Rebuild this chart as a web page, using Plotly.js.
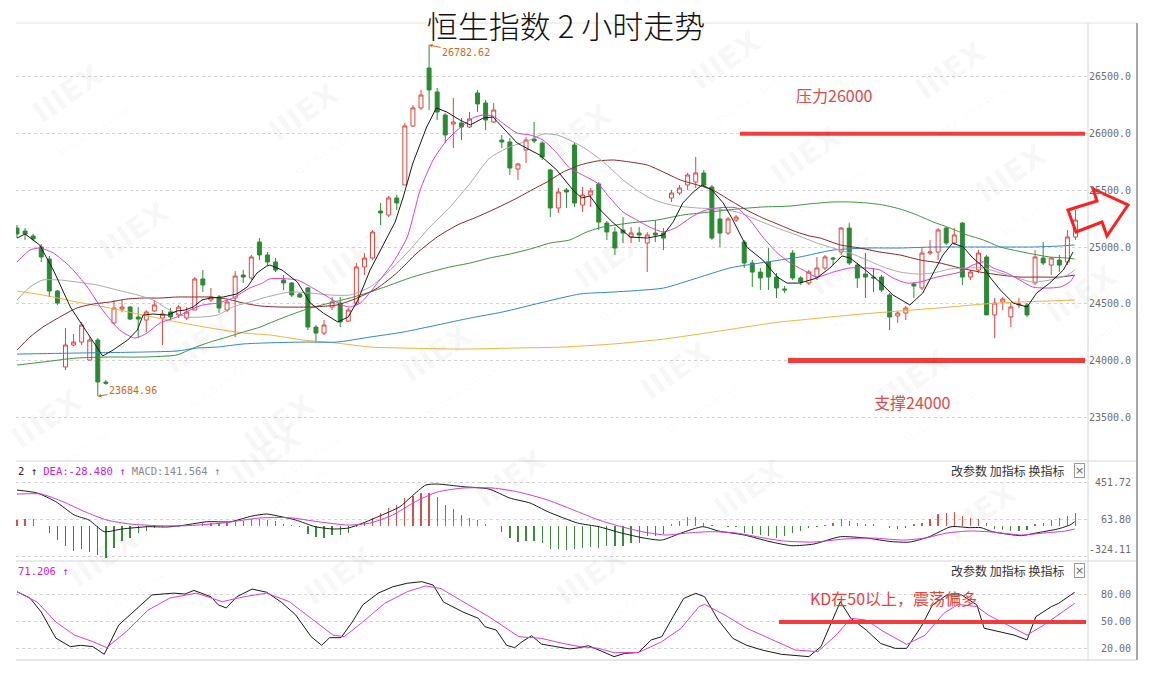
<!DOCTYPE html>
<html><head><meta charset="utf-8">
<script src="https://cdn.plot.ly/plotly-3.0.1.min.js"></script>
<style>html,body{margin:0;padding:0;background:#fff;overflow:hidden}#chart{width:1157px;height:687px}</style>
</head><body><div id="chart"></div>
<script>
// ---------- DATA ----------
const opens = [25168,25142,25098,25001,24895,24613,23943,24137,24163,24004,
 24181,23810,24331,24454,24472,24384,24357,24437,24375,24428,
 24402,24375,24445,24719,24534,24560,24445,24551,24754,24728,
 25045,24931,24869,24710,24684,24587,24640,24295,24242,24472,
 24507,24348,24507,24825,24904,25318,25283,25433,25548,26068,
 26227,26579,26368,26165,26085,26094,26059,26359,26271,26103,
 25944,25927,25689,25856,25953,25918,25680,25345,25504,25900,
 25371,25460,25557,25212,25133,25151,25089,25124,25036,25124,
 25124,25433,25477,25548,25574,25654,25530,25248,25124,25239,
 25045,24860,24780,24869,24736,24631,24948,24728,24684,24736,
 24816,24904,24957,25168,24842,24763,24736,24736,24578,24393,
 24419,24675,24640,24948,24957,25168,25036,25212,24736,24798,
 24913,24402,24516,24384,24490,24490,24684,24904,24842,24886,
 24869,25089];
const highs = [25195,25168,25116,25027,24922,24622,24287,24234,24340,24207,
 24198,23828,24534,24534,24481,24472,24445,24534,24445,24463,
 24490,24472,24736,24798,24640,24578,24534,24789,24798,24931,
 25080,24957,24904,24754,24692,24595,24648,24313,24357,24560,
 24560,24463,24860,24948,25151,25389,25451,25460,26094,26253,
 26385,26782.62,26403,26182,26315,26138,26191,26385,26297,26271,
 25989,25962,25742,25971,26103,25936,25690,25521,25521,25918,
 25530,25521,25574,25230,25177,25265,25177,25177,25133,25239,
 25168,25504,25548,25654,25795,25680,25548,25345,25265,25283,
 25063,24886,24816,24992,24772,24657,24974,24745,24798,24913,
 24931,24913,25177,25212,24860,24948,24816,24754,24595,24437,
 24481,24692,25001,25063,25168,25177,25168,25221,24798,24974,
 24931,24551,24560,24507,24551,24507,24974,25045,24913,24931,
 25151,25327];
const lows = [25080,25063,25054,24869,24560,24490,23916,24128,24137,24004,
 23684.96,23785,24320,24428,24357,24198,24251,24428,24137,24357,
 24375,24357,24445,24604,24516,24419,24428,24207,24684,24710,
 24886,24842,24780,24622,24560,24551,24269,24163,24225,24445,
 24295,24340,24490,24754,24886,25195,25265,25327,25548,26059,
 26209,26209,26121,25918,25874,25944,26050,26191,26033,26094,
 25874,25636,25592,25742,25918,25768,25265,25301,25345,25354,
 25310,25354,25151,25063,24931,25036,25036,25045,24781,25045,
 24974,25398,25460,25504,25521,25530,25063,25001,25107,25221,
 24816,24648,24622,24622,24551,24595,24710,24666,24666,24710,
 24798,24842,24931,24842,24640,24551,24604,24604,24269,24331,
 24357,24551,24622,24931,24886,25019,25019,24666,24710,24772,
 24402,24198,24445,24295,24463,24384,24666,24842,24754,24781,
 24842,25063];
const closes = [25116,25116,25072,24913,24613,24507,24137,24163,24313,24181,
 23811,23800,24463,24472,24366,24366,24428,24490,24410,24384,
 24472,24428,24719,24666,24560,24463,24516,24745,24736,24913,
 24931,24869,24798,24684,24578,24560,24295,24242,24313,24516,
 24340,24445,24825,24904,25133,25301,25433,25389,26068,26227,
 26341,26385,26191,25989,26103,26059,26130,26262,26121,26209,
 25927,25697,25733,25944,25936,25794,25345,25486,25486,25389,
 25460,25495,25221,25133,24992,25124,25124,25107,25107,25107,
 25080,25477,25521,25636,25654,25548,25080,25124,25248,25265,
 24860,24780,24728,24736,24640,24622,24728,24692,24781,24816,
 24913,24895,25168,24860,24728,24736,24728,24622,24384,24419,
 24463,24657,24948,24957,25151,25036,25107,24736,24780,24948,
 24402,24507,24542,24472,24498,24402,24913,24860,24904,24842,
 25089,25239];

// moving averages: [bar position, value]
const maBlack = [[0,25080],[1.0,25116],[2.8,25019],[4.5,24798],[6.6,24472],[8.7,24243],[10.6,24040],[11.9,24093],[13.7,24181],[14.9,24269],
 [15.6,24401],[16.8,24410],[18.6,24401],[19.8,24437],[20.8,24445],[21.8,24472],[22.9,24534],[23.9,24551],[25.5,24560],[27.2,24587],
 [28.5,24648],[29.7,24772],[30.9,24833],[31.3,24842],[32.8,24798],[34.7,24692],[36.3,24507],[37.9,24419],[39.7,24340],[41.0,24384],
 [42.2,24534],[43.7,24798],[45.8,25089],[46.8,25221],[47.8,25442],[49.0,25742],[50.7,26059],[51.9,26227],[53.2,26191],[54.8,26121],
 [56.1,26077],[57.7,26138],[58.9,26147],[60.1,26059],[61.9,25918],[63.5,25856],[64.7,25812],[66.8,25680],[68.8,25504],[69.9,25433],
 [70.9,25451],[72.2,25327],[73.8,25213],[75.9,25089],[78.0,25080],[80.0,25107],[81.2,25221],[82.4,25389],[83.7,25486],[84.8,25548],
 [86.0,25504],[87.4,25389],[88.6,25239],[90.3,25001],[92.3,24886],[94.1,24736],[95.3,24683],[96.9,24683],[99.0,24728],[100.6,24816],
 [102.1,24922],[103.1,24904],[104.7,24816],[106.8,24692],[108.4,24578],[110.5,24490],[112.1,24595],[113.4,24772],[114.6,24930],[115.8,25036],
 [117.1,25001],[118.3,24904],[119.6,24825],[120.4,24736],[121.7,24622],[123.3,24507],[125.0,24472],[126.2,24595],[127.8,24683],[129.5,24798],[130.7,24957]];
const maMagenta = [[0,24869],[1.6,24974],[2.8,24992],[4.5,24948],[6.6,24825],[8.7,24648],[10.6,24445],[12.7,24269],[14.6,24198],[16.1,24243],
 [17.7,24331],[19.8,24384],[21.4,24445],[23.0,24490],[24.8,24507],[26.7,24551],[28.8,24639],[30.4,24683],[31.3,24720],[34.7,24710],
 [36.6,24639],[38.5,24560],[40.2,24490],[41.2,24472],[42.5,24507],[44.6,24683],[46.5,24860],[48.3,25089],[49.9,25504],[51.5,25768],
 [53.2,25944],[54.8,26050],[56.4,26138],[57.7,26165],[58.9,26156],[60.1,26094],[61.9,26006],[63.5,25989],[65.1,25944],[66.8,25830],
 [68.4,25698],[70.0,25636],[71.8,25565],[73.4,25433],[75.0,25310],[76.7,25239],[78.3,25177],[80.0,25133],[81.7,25177],[83.3,25257],
 [84.9,25318],[86.6,25345],[89.1,25345],[90.7,25239],[92.3,25089],[94.1,24948],[95.7,24860],[97.3,24798],[99.0,24736],[101.0,24780],
 [103.1,24816],[105.2,24816],[106.8,24798],[108.4,24728],[110.1,24683],[111.8,24692],[113.4,24728],[115.1,24754],[116.7,24780],[118.3,24842],
 [119.6,24869],[120.8,24816],[122.5,24772],[124.1,24710],[125.7,24648],[127.5,24639],[129.1,24648],[130.3,24692],[130.9,24754]];
const maGray = [[0,24534],[1.6,24648],[3.2,24710],[5.3,24710],[7.4,24692],[9.9,24666],[12.4,24622],[14.9,24578],[16.8,24534],[18.9,24445],
 [21.0,24384],[23.0,24384],[24.8,24401],[26.7,24472],[28.8,24516],[30.9,24560],[33.8,24604],[36.3,24595],[38.7,24578],[41.2,24578],
 [43.7,24648],[46.2,24798],[48.6,24974],[51.1,25177],[53.6,25354],[56.1,25565],[58.5,25786],[61.0,25883],[63.5,25944],[65.1,25997],
 [66.8,25989],[68.4,25944],[70.0,25883],[71.8,25795],[73.4,25698],[75.0,25592],[76.7,25504],[78.3,25433],[80.0,25389],[81.7,25362],
 [84.2,25345],[86.6,25336],[89.1,25310],[91.6,25239],[94.1,25168],[96.5,25107],[99.0,25036],[101.0,24992],[103.1,24948],[105.2,24886],
 [107.2,24825],[109.3,24780],[111.4,24763],[113.4,24772],[115.5,24807],[117.6,24816],[119.6,24816],[121.7,24772],[123.8,24728],[125.7,24692],
 [127.8,24710],[130.0,24754],[130.9,24798]];
const maMaroon = [[0,24093],[1.6,24207],[3.2,24295],[5.3,24384],[7.4,24463],[9.4,24498],[11.5,24516],[13.6,24542],[15.6,24551],[17.7,24551],
 [19.8,24560],[21.8,24560],[23.9,24560],[26.0,24542],[28.0,24507],[30.1,24481],[32.5,24472],[36.3,24472],[39.6,24490],[42.1,24551],
 [44.6,24639],[47.0,24772],[49.5,24948],[52.0,25089],[54.5,25195],[56.9,25265],[59.4,25345],[61.9,25433],[64.4,25530],[65.6,25574],
 [67.6,25662],[69.7,25724],[71.8,25759],[73.8,25768],[75.9,25750],[78.0,25724],[80.0,25662],[82.1,25592],[84.2,25548],[86.1,25504],
 [88.2,25415],[90.3,25327],[92.3,25257],[94.4,25195],[96.5,25133],[98.1,25098],[99.4,25080],[101.9,25019],[104.3,24992],[106.8,24957],
 [109.3,24930],[111.8,24886],[114.2,24860],[116.7,24816],[119.2,24780],[121.7,24754],[124.1,24736],[126.6,24736],[129.1,24736],[130.9,24754]];
const maGreen = [[0,23960],[3.2,23987],[7.4,24022],[11.5,24031],[15.6,24031],[19.8,24049],[21.8,24110],[23.9,24163],[26.0,24207],[28.0,24251],
 [30.1,24295],[31.3,24331],[33.8,24401],[36.3,24463],[38.7,24507],[41.2,24551],[43.7,24604],[46.2,24666],[48.6,24728],[51.1,24780],
 [53.6,24825],[56.1,24860],[58.5,24904],[61.0,24939],[63.5,24983],[66.0,25036],[68.4,25063],[70.5,25133],[72.5,25177],[75.9,25213],
 [79.2,25239],[82.4,25283],[85.8,25310],[89.1,25336],[92.3,25354],[95.7,25362],[97.9,25380],[101.0,25398],[103.1,25398],[105.2,25389],
 [107.2,25371],[109.3,25336],[111.4,25283],[113.4,25221],[115.5,25168],[117.6,25107],[119.6,25063],[121.7,25001],[123.8,24966],[125.7,24939],
 [127.8,24913],[130.0,24904],[130.9,24895]];
const maBlue = [[0,24057],[7.4,24066],[15.6,24075],[19.8,24084],[22.3,24110],[24.8,24119],[28.0,24146],[30.4,24154],[35.4,24163],[39.6,24163],
 [43.7,24207],[47.8,24251],[52.0,24313],[56.1,24375],[60.1,24428],[64.7,24507],[69.7,24587],[73.8,24604],[80.0,24639],[84.2,24728],
 [88.2,24816],[90.3,24842],[94.4,24886],[96.9,24913],[101.0,24974],[105.2,24992],[109.3,24992],[113.4,25001],[117.6,25001],[121.7,25001],
 [125.7,25001],[129.1,25010],[130.9,25019]];
const maOrange = [[0,24613],[3.2,24578],[7.4,24516],[11.5,24463],[15.6,24401],[19.8,24340],[23.9,24287],[28.0,24243],[31.3,24225],[35.4,24181],
 [39.6,24154],[43.7,24119],[47.8,24110],[55.2,24101],[61.4,24110],[67.6,24119],[73.8,24146],[80.0,24189],[86.1,24251],[94.4,24340],
 [96.9,24357],[103.1,24401],[109.3,24437],[115.5,24472],[119.6,24498],[123.8,24516],[127.8,24525],[130.9,24534]];

// MACD panel
const macdHist = [63,73,73,0,-73,-147,-210,-262,-241,-272,
 -304,-335,-231,-157,-126,-73,-52,-21,-10,-10,
 -10,0,0,31,31,31,42,42,52,73,
 73,63,52,21,10,-10,-84,-115,-126,-94,
 -94,-73,-10,31,84,136,189,220,293,314,
 346,346,304,220,178,115,84,63,21,0,
 -63,-126,-168,-157,-157,-178,-241,-241,-252,-241,
 -231,-220,-231,-210,-210,-210,-178,-178,-105,-105,
 -84,21,52,94,94,31,10,0,-10,-10,
 -73,-84,-94,-105,-126,-105,-73,-52,-21,-10,
 10,31,73,52,31,21,21,0,-21,-31,
 -21,21,31,73,126,136,147,105,84,73,
 31,-31,-42,-52,-52,-42,21,31,63,84,
 105,136];
const difLine = [[0,377],[2.5,346],[4.8,255],[7.1,115],[8.9,63],[10.8,-59],[13.0,-31],[16.2,-7],[18.6,-10],[20.8,10],
 [23.5,45],[26.4,45],[29.1,105],[30.9,126],[32.7,98],[34.5,63],[36.9,-7],[39.1,-31],[41.0,-21],[42.8,31],
 [44.7,98],[47.4,203],[48.8,307],[50.6,430],[52.0,440],[55.2,412],[58.4,388],[61.0,293],[63.5,241],[65.7,150],
 [69.4,31],[72.0,-7],[74.8,-73],[77.6,-126],[79.8,-147],[82.2,-73],[84.9,-7],[86.8,-52],[90.0,-94],[93.2,-164],
 [95.9,-206],[98.6,-189],[101.9,-112],[105.1,-126],[108.3,-164],[110.5,-168],[112.9,-112],[115.6,-7],[117.9,-17],[119.3,-17],
 [120.7,-59],[124.3,-101],[126.1,-73],[128.8,-31],[130.3,10],[130.9,45]];
const deaLine = [[0,335],[3.0,335],[5.7,255],[8.4,150],[11.1,63],[14.0,21],[17.6,3],[20.8,3],[25.4,31],[30.0,84],
 [33.7,87],[37.3,45],[41.0,10],[43.7,31],[46.5,115],[49.3,255],[52.0,356],[55.2,398],[58.9,398],[62.1,356],
 [65.7,272],[69.4,150],[72.0,63],[74.8,-7],[77.6,-63],[80.3,-94],[83.0,-73],[85.8,-59],[89.0,-73],[92.2,-122],
 [94.9,-157],[98.6,-168],[102.4,-136],[105.9,-126],[109.7,-147],[112.4,-126],[115.1,-73],[117.9,-52],[120.7,-63],[124.3,-94],
 [127.1,-73],[129.8,-52],[130.9,-31]];

// KD panel
const kLine = [[0,82.6],[1.6,75.6],[3.0,60],[4.8,31],[6.6,21.5],[7.9,23],[9.4,21.5],[10.8,13],[12.6,45.6],[14.4,60],
 [16.7,79],[19.4,81],[20.8,80],[21.9,84],[24.0,77],[24.9,68],[25.9,64.5],[27.2,77],[29.1,85.5],[30.9,82],
 [32.7,71],[34.5,56.7],[36.4,32.6],[37.7,23],[38.7,31.5],[40.1,31.5],[41.5,49],[42.8,68],[44.7,81],[46.5,88],
 [48.3,92],[50.1,93.7],[51.5,90],[52.8,71],[55.2,60],[57.1,53],[57.9,43.7],[59.3,40],[60.6,23],[61.6,20.4],
 [62.5,27],[63.7,33.7],[64.9,24.4],[66.7,21.5],[68.4,19],[69.7,20.4],[70.7,22.6],[72.0,17.8],[73.9,10.4],[75.2,14],
 [76.9,15],[78.5,29],[79.8,32.6],[81.2,54.8],[82.5,75],[84.0,80.8],[85.1,77],[86.8,51],[88.6,30.7],[90.3,23],
 [92.2,17.8],[94.6,13],[96.3,11.5],[98.0,10.4],[99.5,21.5],[100.9,51],[101.9,71.5],[103.2,53],[105.1,40],[106.9,25],
 [108.7,19.6],[110.1,19.6],[111.9,43.7],[113.3,67.8],[115.1,79],[116.9,79],[118.8,67.8],[119.7,42],[121.5,38],[123.4,34.4],
 [125.0,29],[126.1,54.8],[128.0,65.9],[128.9,69.6],[130.9,81.9]];
const dLine = [[0,82.6],[2.5,71],[4.8,49],[7.1,34.4],[9.4,27],[11.1,20.4],[13.5,38],[16.2,62],[18.9,75.5],[22.2,81],
 [25.4,71.5],[28.1,77],[30.9,81],[33.7,71.5],[36.4,53],[39.1,34.4],[40.5,32.6],[42.8,49],[45.5,69.6],[48.3,82.6],
 [50.6,89],[52.5,86],[55.2,71.5],[58.4,54.8],[62.1,32.6],[64.9,30.7],[67.6,25],[69.7,21.5],[72.0,19.6],[73.9,14.8],
 [76.9,15],[79.8,27],[82.2,42],[84.4,66],[85.1,68.5],[87.6,56.7],[90.3,42],[93.6,29],[96.3,17.8],[99.1,16],
 [101.4,34.4],[103.2,53],[105.1,51],[107.3,38],[110.1,24],[112.4,34.4],[114.7,58.5],[116.5,68.5],[118.8,66],[120.2,56.7],
 [122.5,45.6],[125.0,34.4],[127.1,45.6],[128.9,56.7],[130.9,69.6]];

const priceTicks = [26500,26000,25500,25000,24500,24000,23500];
const macdTicks = [451.72,63.80,-324.11];
const kdTicks = [80,50,20];
const resistanceLevel = 26000;
const supportLevel = 24000;
const kdLevel = 50;
const highIdx = 51, highValue = 26782.62;
const lowIdx = 10, lowValue = 23684.96;
const titleText = '恒生指数 2 小时走势';
const resistanceText = '压力26000';
const supportText = '支撑24000';
const kdText = 'KD在50以上，震荡偏多';
const macdHeader = ['2 ↑', 'DEA:-28.480 ↑', 'MACD:141.564 ↑'];
const kdHeader = '71.206 ↑';
const toolText = '改参数 加指标 换指标';

// ---------- LAYOUT HELPERS ----------
const PL = 16, PR = 1088, PT = 23, PB = 660;
const X = px => (px - PL) / (PR - PL);
const Y = py => (PB - py) / (PB - PT);
const bars = opens.map((_, i) => i);

function line(pairs, color, yaxis, shape, width) {
  return {type:'scatter', mode:'lines', x: pairs.map(p => p[0]), y: pairs.map(p => p[1]),
    yaxis: yaxis, line:{color: color, width: width || 1, shape: shape || 'spline', smoothing: 0.6},
    hoverinfo:'skip', showlegend:false};
}

const traces = [
  {type:'candlestick', x: bars, open: opens, high: highs, low: lows, close: closes,
   increasing:{line:{color:'#e0443e', width:1}, fillcolor:'#ffffff'},
   decreasing:{line:{color:'#2c8a35', width:1}, fillcolor:'#2c8a35'},
   whiskerwidth:0, hoverinfo:'skip', showlegend:false},
  line(maOrange, '#f0b43c', 'y'),
  line(maBlue, '#2f88c8', 'y'),
  line(maGreen, '#3b933d', 'y'),
  line(maMaroon, '#862424', 'y'),
  line(maGray, '#a9a9a9', 'y'),
  line(maMagenta, '#d63fd6', 'y'),
  line(maBlack, '#1a1a1a', 'y', 'linear'),
  {type:'bar', x: bars, y: macdHist, yaxis:'y2', width:0.16,
   marker:{color: macdHist.map(v => v >= 0 ? '#d4504c' : '#3a8a3a'), line:{width:0}},
   hoverinfo:'skip', showlegend:false},
  line(difLine, '#1a1a1a', 'y2'),
  line(deaLine, '#d23bd2', 'y2'),
  line(kLine, '#1a1a1a', 'y3', 'linear'),
  line(dLine, '#d63fd6', 'y3', 'linear')
];

const mono = 'DejaVu Sans Mono';
const cjk = 'Noto Sans CJK SC';
const ann = [];
function txt(o) { return Object.assign({xref:'paper', yref:'paper', xanchor:'center', yanchor:'middle', showarrow:false}, o); }

// right-hand axis labels (right aligned)
priceTicks.forEach(v => ann.push(txt({yref:'y', x: X(1133), y: v, xanchor:'right',
  text: v.toFixed(1), font:{family: mono, size:10, color:'#6e6e6e'}})));
macdTicks.forEach((v, i) => ann.push(txt({yref:'y2', x: X(1133), y: v, xanchor:'right',
  yshift: i === 2 ? 7 : 0, text: v.toFixed(2), font:{family: mono, size:10, color:'#6e6e6e'}})));
kdTicks.forEach(v => ann.push(txt({yref:'y3', x: X(1133), y: v, xanchor:'right',
  text: v.toFixed(2), font:{family: mono, size:10, color:'#6e6e6e'}})));

// high / low markers
ann.push({x: highIdx, y: highValue, xref:'x', yref:'y', text: highValue.toFixed(2), showarrow:true,
  xanchor:'center', yanchor:'middle',
  ax: 37, ay: 8, arrowhead:2, arrowsize:0.7, arrowwidth:1, arrowcolor:'#d2691e',
  font:{family: mono, size:10, color:'#c8691e'}});
ann.push({x: lowIdx, y: lowValue, xref:'x', yref:'y', text: lowValue.toFixed(2), showarrow:true,
  xanchor:'center', yanchor:'middle',
  ax: 35, ay: -6, arrowhead:2, arrowsize:0.7, arrowwidth:1, arrowcolor:'#d2691e',
  font:{family: mono, size:10, color:'#c8691e'}});

// red commentary
ann.push(txt({x: X(834), y: Y(95), text: resistanceText, font:{family: cjk, size:16, color:'#dd4a4a'}}));
ann.push(txt({x: X(912), y: Y(402), text: supportText, font:{family: cjk, size:16, color:'#dd4a4a'}}));
ann.push(txt({x: X(893), y: Y(598), text: kdText, font:{family: cjk, size:16, color:'#e8403c'}}));

// panel headers
ann.push(txt({x: X(16), y: Y(471), xanchor:'left',
  text: '<span style="color:#222">' + macdHeader[0] + '</span> <span style="color:#cc22cc">' + macdHeader[1] +
        '</span> <span style="color:#8a8a8a">' + macdHeader[2] + '</span>',
  font:{family: mono, size:10.5}}));
ann.push(txt({x: X(16), y: Y(571), xanchor:'left', text: kdHeader, font:{family: mono, size:10.5, color:'#cc22cc'}}));
[471, 570].forEach(py => {
  ann.push(txt({x: X(1066), y: Y(py), xanchor:'right', text: toolText, font:{family: cjk, size:12, color:'#333'}}));
  ann.push(txt({x: X(1079), y: Y(py), text: '×', bordercolor:'#999', borderwidth:1, borderpad:0,
    font:{family:'DejaVu Sans', size:11, color:'#666'}}));
});

// faint watermarks
const marks = [[77,108],[313,127],[585,147],[735,75],[960,85],[815,170],[1020,187],[143,245],[366,270],[618,273],
  [853,280],[1090,308],[208,358],[445,367],[685,385],[922,393],[55,433],[288,437],[275,470],[520,493],[758,503],
  [990,525],[112,572],[348,590],[600,590]];
marks.forEach(m => ann.push(txt({x: X(m[0]), y: Y(m[1]), textangle:-35,
  text:'<b>IIIEX</b><br><span style="font-size:10px">MultiBank Group</span>',
  font:{family:'DejaVu Sans', size:30, color:'rgba(0,0,0,0.04)'}})));

// shapes
const shapes = [
  {type:'line', xref:'paper', yref:'paper', x0: X(16), x1: X(1137), y0: Y(23), y1: Y(23), line:{color:'#e2e2e2', width:1}},
  {type:'line', xref:'paper', yref:'paper', x0: X(16), x1: X(1137), y0: Y(461), y1: Y(461), line:{color:'#d6d6d6', width:1}},
  {type:'line', xref:'paper', yref:'paper', x0: X(16), x1: X(1137), y0: Y(561), y1: Y(561), line:{color:'#d6d6d6', width:1}},
  {type:'line', xref:'paper', yref:'paper', x0: X(16), x1: X(1137), y0: Y(660), y1: Y(660), line:{color:'#d0d0d0', width:1}},
  {type:'line', xref:'paper', yref:'paper', x0: X(1088), x1: X(1088), y0: Y(23), y1: Y(660), line:{color:'#d6d6d6', width:1}},
  {type:'line', xref:'paper', yref:'paper', x0: X(1137), x1: X(1137), y0: Y(23), y1: Y(660), line:{color:'#a8a8a8', width:2}},
  {type:'line', xref:'paper', yref:'y', x0: X(740), x1: X(1085), y0: resistanceLevel, y1: resistanceLevel, line:{color:'#f23c3c', width:4}},
  {type:'line', xref:'paper', yref:'y', x0: X(788), x1: X(1085), y0: supportLevel, y1: supportLevel, line:{color:'#f23c3c', width:5}},
  {type:'line', xref:'paper', yref:'y3', x0: X(779), x1: X(1086), y0: kdLevel - 1, y1: kdLevel - 1, line:{color:'#f23c3c', width:4}}
];
const arrowPts = [[1068,210],[1097,201],[1093,189],[1128,205],[1107,236],[1102,222],[1076,232]];
shapes.push({type:'path', xref:'paper', yref:'paper',
  path: 'M ' + arrowPts.map(p => X(p[0]).toFixed(4) + ',' + Y(p[1]).toFixed(4)).join(' L ') + ' Z',
  line:{color:'#ff1f1f', width:3}, fillcolor:'rgba(0,0,0,0)'});

const gridY = {showgrid:true, gridcolor:'#d4d4d4', griddash:'dot', gridwidth:1, zeroline:false,
  showticklabels:false, ticks:'', showline:false, fixedrange:true};

const layout = {
  width:1157, height:687,
  margin:{l:PL, r:1157-PR, t:PT, b:687-PB, pad:0},
  paper_bgcolor:'#ffffff', plot_bgcolor:'#ffffff',
  showlegend:false, hovermode:false, boxgap:0.3, bargap:0,
  title:{text: titleText, x: 566/1157, xanchor:'center', y: 1 - 27/687, yanchor:'middle',
    xref:'container', yref:'container', font:{family: cjk, size:31, weight:300, color:'#111'}},
  xaxis:{domain:[0,1], range:[-0.124, 132.55], anchor:'y3', showgrid:false, zeroline:false,
    showticklabels:false, ticks:'', showline:false, rangeslider:{visible:false}, fixedrange:true},
  yaxis: Object.assign({}, gridY, {domain:[Y(460), 1], range:[23123, 26976], tickvals: priceTicks, anchor:'x'}),
  yaxis2: Object.assign({}, gridY, {domain:[Y(560), Y(462)], range:[-356, 671], tickvals: macdTicks, anchor:'x'}),
  yaxis3: Object.assign({}, gridY, {domain:[0, Y(562)], range:[6.67, 115.6], tickvals: kdTicks, anchor:'x'}),
  annotations: ann,
  shapes: shapes
};

Plotly.newPlot('chart', traces, layout, {staticPlot:true, displayModeBar:false});
</script>
</body></html>
